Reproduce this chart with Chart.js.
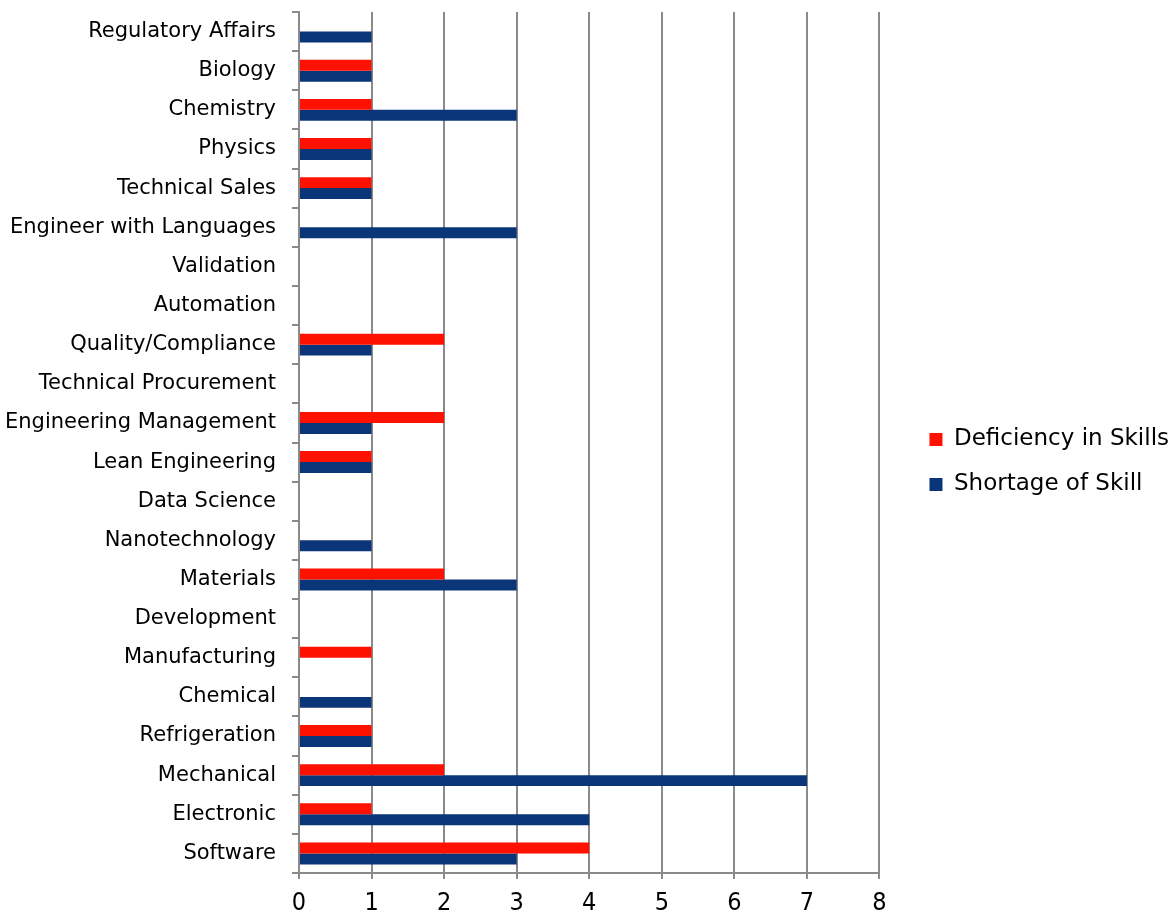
<!DOCTYPE html>
<html>
<head>
<meta charset="utf-8">
<script src="https://cdn.jsdelivr.net/npm/chart.js@4"></script>
<style>
  html, body { margin: 0; padding: 0; background: #fff; overflow: hidden; }
  #wrap { width: 1180px; height: 918px; }
</style>
</head>
<body>
<div id="wrap"><canvas id="skills-chart"></canvas></div>
<script>
// Skills gaps by discipline (top to bottom as shown)
const categories = [
  'Regulatory Affairs', 'Biology', 'Chemistry', 'Physics', 'Technical Sales',
  'Engineer with Languages', 'Validation', 'Automation', 'Quality/Compliance',
  'Technical Procurement', 'Engineering Management', 'Lean Engineering',
  'Data Science', 'Nanotechnology', 'Materials', 'Development', 'Manufacturing',
  'Chemical', 'Refrigeration', 'Mechanical', 'Electronic', 'Software'
];
const deficiency = [0, 1, 1, 1, 1, 0, 0, 0, 2, 0, 2, 1, 0, 0, 2, 0, 1, 0, 1, 2, 1, 4];
const shortage   = [1, 1, 3, 1, 1, 3, 0, 0, 1, 0, 1, 1, 0, 1, 3, 0, 0, 1, 1, 7, 4, 3];
const xTicks = [0, 1, 2, 3, 4, 5, 6, 7, 8];

const FONT = '"DejaVu Sans", sans-serif';
const NUM_FONT = '"DejaVu Sans Condensed", "DejaVu Sans", sans-serif';
const GRID = '#8a8a8a';

new Chart(document.getElementById('skills-chart').getContext('2d'), {
  type: 'bar',
  data: {
    labels: categories,
    datasets: [
      {
        label: 'Deficiency in Skills',
        data: deficiency,
        backgroundColor: '#ff1100',
        barPercentage: 1,
        categoryPercentage: 0.56
      },
      {
        label: 'Shortage of Skill',
        data: shortage,
        backgroundColor: '#0a3578',
        barPercentage: 1,
        categoryPercentage: 0.56
      }
    ]
  },
  options: {
    indexAxis: 'y',
    responsive: true,
    maintainAspectRatio: false,
    animation: false,
    layout: { padding: { top: 12, right: 1, left: 0, bottom: 6 } },
    plugins: {
      tooltip: { enabled: false },
      legend: {
        position: 'right',
        maxWidth: 300,
        labels: {
          color: '#000',
          font: { family: FONT, size: 23 },
          boxWidth: 13,
          boxHeight: 13,
          padding: 22
        }
      }
    },
    scales: {
      x: {
        min: 0,
        max: 8,
        afterBuildTicks: (scale) => { scale.ticks = xTicks.map(v => ({ value: v })); },
        grid: { color: GRID, lineWidth: 2, drawTicks: true, tickLength: 6, tickColor: GRID },
        border: { display: true, color: GRID, width: 2 },
        ticks: { color: '#000', font: { family: NUM_FONT, size: 25 }, padding: 9 },
        afterFit: (scale) => { scale.height = 39; scale.paddingLeft = 0; scale.paddingRight = 0; }
      },
      y: {
        grid: { drawOnChartArea: false, drawTicks: true, tickLength: 7, tickColor: GRID, lineWidth: 2, offset: true },
        border: { display: true, color: GRID, width: 2 },
        ticks: { color: '#000', font: { family: FONT, size: 21 }, padding: 16 },
        afterFit: (scale) => { scale.width = 299; scale.paddingTop = 0; scale.paddingBottom = 0; }
      },
      // empty gap between the plot and the legend
      gap: {
        type: 'category',
        position: 'right',
        grid: { display: false },
        border: { display: false },
        ticks: { display: false },
        afterFit: (scale) => { scale.width = 28; scale.paddingTop = 0; scale.paddingBottom = 0; }
      }
    }
  }
});
</script>
</body>
</html>
